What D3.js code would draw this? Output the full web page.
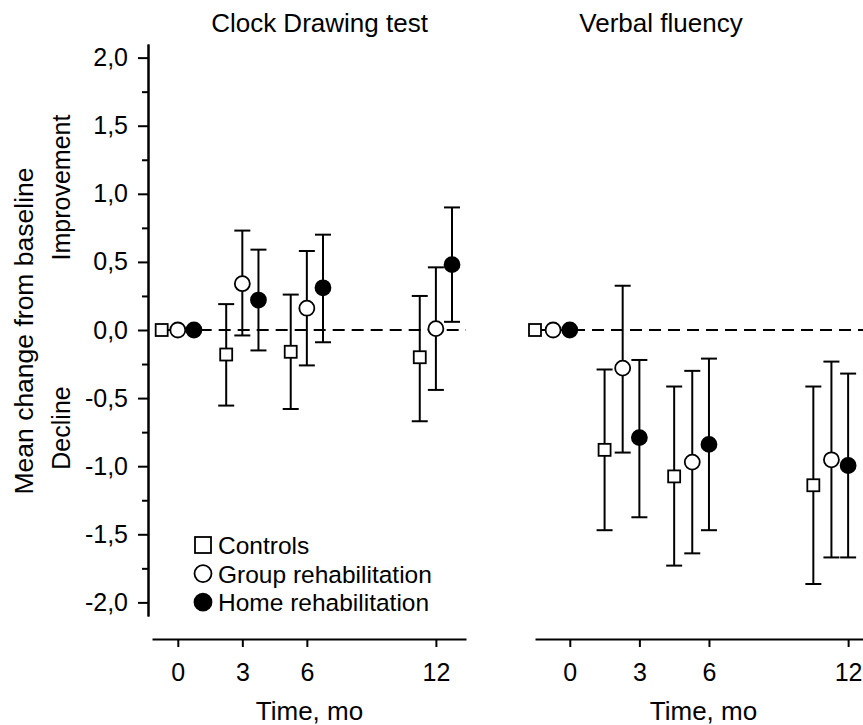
<!DOCTYPE html>
<html>
<head>
<meta charset="utf-8">
<script src="https://cdn.jsdelivr.net/npm/d3@7"></script>
<style>
  body { margin: 0; background: #fff; }
  text { font-family: "Liberation Sans", Arial, sans-serif; fill: #000; }
</style>
</head>
<body>
<svg id="chart" width="863" height="725"></svg>
<script>
// time points (months) and group names
const months = [0, 3, 6, 12];
const groupNames = ["Controls", "Group rehabilitation", "Home rehabilitation"];
const yTicks = [-2, -1.5, -1, -0.5, 0, 0.5, 1, 1.5, 2];
const yMinorTicks = [-1.75, -1.25, -0.75, -0.25, 0.25, 0.75, 1.25, 1.75];

// horizontal jitter (months) so the three groups do not overlap
const clockOffsets = [-0.75, 0, 0.75];
const verbalOffsets = [-1.5, -0.72, 0];

// Clock Drawing test: mean change and error bar ends
const clockControlsMean = [0, -0.18, -0.16, -0.20];
const clockControlsLow  = [0, -0.555, -0.58, -0.67];
const clockControlsHigh = [0, 0.19, 0.26, 0.25];
const clockGroupMean = [0, 0.34, 0.16, 0.01];
const clockGroupLow  = [0, -0.04, -0.26, -0.44];
const clockGroupHigh = [0, 0.73, 0.58, 0.46];
const clockHomeMean = [0, 0.22, 0.31, 0.48];
const clockHomeLow  = [0, -0.15, -0.09, 0.06];
const clockHomeHigh = [0, 0.59, 0.70, 0.90];

// Verbal fluency: mean change and error bar ends
const verbalControlsMean = [0, -0.88, -1.075, -1.14];
const verbalControlsLow  = [0, -1.47, -1.73, -1.865];
const verbalControlsHigh = [0, -0.29, -0.415, -0.415];
const verbalGroupMean = [0, -0.28, -0.97, -0.953];
const verbalGroupLow  = [0, -0.90, -1.64, -1.67];
const verbalGroupHigh = [0, 0.325, -0.30, -0.232];
const verbalHomeMean = [0, -0.79, -0.84, -0.995];
const verbalHomeLow  = [0, -1.375, -1.47, -1.67];
const verbalHomeHigh = [0, -0.22, -0.21, -0.32];

const svg = d3.select("#chart");
const locale = d3.formatLocale({decimal: ",", thousands: ".", grouping: [3], currency: ["", ""], minus: "-"});
const fmt = locale.format(".1f");

const y = d3.scaleLinear().domain([-2.1, 2.1]).range([616, 44]);
const xAxisY = 639;

// Left y axis
const yAxisX = 148;
svg.append("g")
    .attr("transform", `translate(${yAxisX},0)`)
    .call(d3.axisLeft(y).tickValues(yTicks).tickFormat(fmt).tickSize(10).tickSizeOuter(0).tickPadding(10))
    .call(g => g.selectAll("text").style("font-size", "25px"))
    .call(styleAxis);
svg.append("g")
    .attr("transform", `translate(${yAxisX},0)`)
    .call(d3.axisLeft(y).tickValues(yMinorTicks).tickFormat("").tickSize(6).tickSizeOuter(0))
    .call(styleAxis);

function styleAxis(g) {
    g.selectAll("path, line").attr("stroke", "#000").attr("stroke-width", 2);
    g.attr("font-family", null).attr("font-size", null);
    g.selectAll("text").attr("fill", "#000");
}

// one panel per test
const panels = [
    {
        title: "Clock Drawing test", titleX: 319.5, labelX: 309.5,
        x: d3.scaleLinear().domain([-1.2, 13.4]).range([152, 466]),
        offsets: clockOffsets,
        series: [
            [clockControlsMean, clockControlsLow, clockControlsHigh],
            [clockGroupMean, clockGroupLow, clockGroupHigh],
            [clockHomeMean, clockHomeLow, clockHomeHigh]
        ]
    },
    {
        title: "Verbal fluency", titleX: 661, labelX: 703.5,
        x: d3.scaleLinear().domain([-1.5, 12.9]).range([535, 869]),
        offsets: verbalOffsets,
        series: [
            [verbalControlsMean, verbalControlsLow, verbalControlsHigh],
            [verbalGroupMean, verbalGroupLow, verbalGroupHigh],
            [verbalHomeMean, verbalHomeLow, verbalHomeHigh]
        ]
    }
];

panels.forEach(p => {
    const x = p.x;

    // title
    svg.append("text")
        .attr("x", p.titleX).attr("y", 32)
        .attr("text-anchor", "middle")
        .style("font-size", "26px")
        .text(p.title);

    // x axis
    svg.append("g")
        .attr("transform", `translate(0,${xAxisY})`)
        .call(d3.axisBottom(x).tickValues(months).tickFormat(d3.format("d")).tickSize(8).tickSizeOuter(0).tickPadding(16))
        .call(g => g.selectAll("text").style("font-size", "25px"))
        .call(styleAxis);

    svg.append("text")
        .attr("x", p.labelX).attr("y", 720)
        .attr("text-anchor", "middle")
        .style("font-size", "26px")
        .text("Time, mo");

    // zero reference line
    svg.append("line")
        .attr("x1", x(p.offsets[0])).attr("x2", x.range()[1])
        .attr("y1", y(0)).attr("y2", y(0))
        .attr("stroke", "#000").attr("stroke-width", 2)
        .attr("stroke-dasharray", "12,7");

    // flatten into points
    const pts = [];
    p.series.forEach((s, gi) => {
        months.forEach((m, i) => {
            pts.push({group: gi, t: m + p.offsets[gi], mean: s[0][i], lo: s[1][i], hi: s[2][i]});
        });
    });

    const bars = svg.append("g").selectAll("g")
        .data(pts.filter(d => d.hi !== d.lo))
        .enter().append("g")
        .attr("stroke", "#000").attr("stroke-width", 2);
    bars.append("line")
        .attr("x1", d => x(d.t)).attr("x2", d => x(d.t))
        .attr("y1", d => y(d.lo)).attr("y2", d => y(d.hi));
    bars.append("line")
        .attr("x1", d => x(d.t) - 8).attr("x2", d => x(d.t) + 8)
        .attr("y1", d => y(d.lo)).attr("y2", d => y(d.lo));
    bars.append("line")
        .attr("x1", d => x(d.t) - 8).attr("x2", d => x(d.t) + 8)
        .attr("y1", d => y(d.hi)).attr("y2", d => y(d.hi));

    const markers = svg.append("g").selectAll("g")
        .data(pts)
        .enter().append("g")
        .attr("transform", d => `translate(${x(d.t)},${y(d.mean)})`);
    drawMarker(markers, 6, 7.5);
});

function drawMarker(sel, half, r) {
    sel.filter(d => d.group === 0).append("rect")
        .attr("x", -half).attr("y", -half)
        .attr("width", half * 2).attr("height", half * 2)
        .attr("fill", "#fff").attr("stroke", "#000").attr("stroke-width", 1.8);
    sel.filter(d => d.group === 1).append("circle")
        .attr("r", r)
        .attr("fill", "#fff").attr("stroke", "#000").attr("stroke-width", 1.8);
    sel.filter(d => d.group === 2).append("circle")
        .attr("r", r)
        .attr("fill", "#000").attr("stroke", "#000").attr("stroke-width", 1.8);
}

// y axis labels
svg.append("text")
    .attr("transform", "translate(33,331) rotate(-90)")
    .attr("text-anchor", "middle")
    .style("font-size", "26.5px")
    .text("Mean change from baseline");
svg.append("text")
    .attr("transform", "translate(70,187.5) rotate(-90)")
    .attr("text-anchor", "middle")
    .style("font-size", "25px")
    .text("Improvement");
svg.append("text")
    .attr("transform", "translate(70,428) rotate(-90)")
    .attr("text-anchor", "middle")
    .style("font-size", "25px")
    .text("Decline");

// legend
const legend = svg.append("g").selectAll("g")
    .data(groupNames.map((name, i) => ({group: i, name: name})))
    .enter().append("g")
    .attr("transform", (d, i) => `translate(203,${545 + i * 28.6})`);
drawMarker(legend, 8, 8.5);
legend.append("text")
    .attr("x", 15).attr("y", 9)
    .style("font-size", "24.5px")
    .text(d => d.name);
</script>
</body>
</html>
